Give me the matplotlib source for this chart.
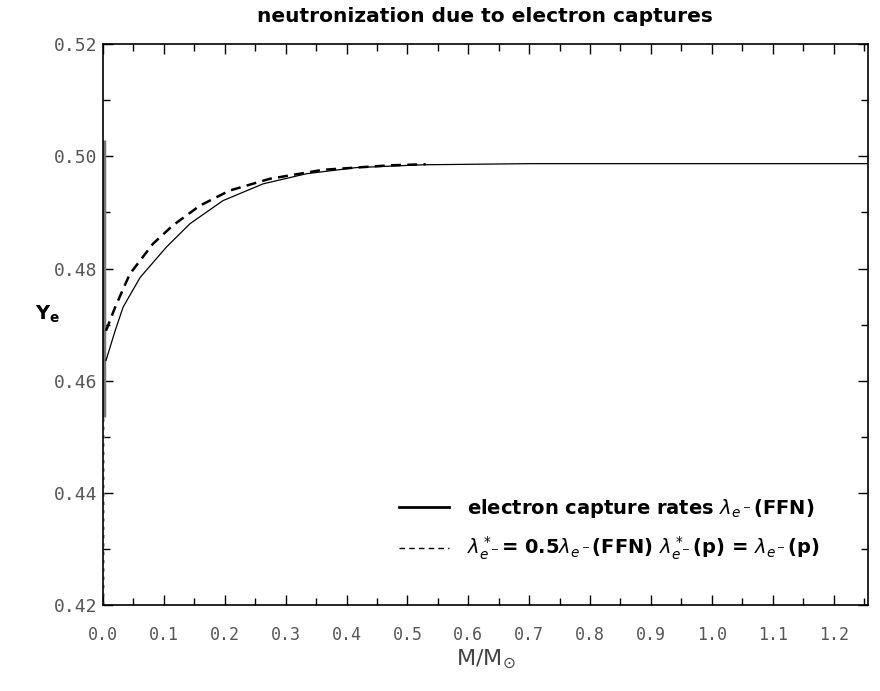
import numpy as np
import matplotlib
matplotlib.use("Agg")
import matplotlib.pyplot as plt
from matplotlib.ticker import MultipleLocator, FormatStrFormatter

# Y_e vs enclosed mass
mass_ffn = [0.005, 0.020, 0.033, 0.061, 0.104, 0.143, 0.197, 0.263, 0.334, 0.416, 0.525, 0.70, 0.90, 1.10, 1.256]
ye_ffn = [0.4636, 0.4689, 0.4731, 0.4784, 0.4838, 0.4880, 0.4921, 0.4951, 0.4969, 0.4980, 0.4985, 0.4987, 0.4987, 0.4987, 0.4987]

mass_half = [0.005, 0.020, 0.044, 0.082, 0.115, 0.159, 0.208, 0.274, 0.361, 0.470, 0.53]
ye_half = [0.4689, 0.4731, 0.4790, 0.4844, 0.4877, 0.4912, 0.4939, 0.4960, 0.4976, 0.4984, 0.4986]

# steep rise right at the centre (drawn along the left edge)
core_mass = [0.001, 0.001]
core_ye = [0.4535, 0.503]
core_low_mass = [0.001, 0.001]
core_low_ye = [0.420, 0.4535]

label_ffn = r"electron capture rates $\lambda_{e^-}$(FFN)"
label_half = r"$\lambda^*_{e^-}$= 0.5$\lambda_{e^-}$(FFN) $\lambda^*_{e^-}$(p) = $\lambda_{e^-}$(p)"

fig = plt.figure(figsize=(8.8, 6.91), dpi=100)
ax = fig.add_axes([0.117, 0.1245, 0.869, 0.8115])

ax.plot(core_mass, core_ye, color="#777777", lw=2.5, solid_capstyle="butt")
ax.plot(core_low_mass, core_low_ye, color="#999999", lw=1.2, ls=(0, (2, 3)))
ax.plot(mass_ffn, ye_ffn, color="black", lw=0.9)
ax.plot(mass_half, ye_half, color="black", lw=1.8, ls=(0, (4, 2.5)))

ax.set_xlim(0, 1.256)
ax.set_ylim(0.42, 0.52)
ax.xaxis.set_major_locator(MultipleLocator(0.1))
ax.xaxis.set_minor_locator(MultipleLocator(0.05))
ax.yaxis.set_major_locator(MultipleLocator(0.02))
ax.yaxis.set_minor_locator(MultipleLocator(0.01))
ax.xaxis.set_major_formatter(FormatStrFormatter("%.1f"))
ax.yaxis.set_major_formatter(FormatStrFormatter("%.2f"))
ax.tick_params(which="both", direction="in", top=True, right=True, width=1.0, color="black")
ax.tick_params(which="major", length=7)
ax.tick_params(which="minor", length=5)
ax.tick_params(axis="x", labelsize=12, labelcolor="#555555", pad=15)
ax.tick_params(axis="y", labelsize=13, labelcolor="#555555", pad=4)
for lab in ax.get_xticklabels() + ax.get_yticklabels():
    lab.set_family("DejaVu Sans Mono")

ax.set_xlabel(r"M/M$_{\odot}$", fontsize=16, color="#444444", labelpad=3)
ax.set_ylabel(r"Y$_{\mathbf{e}}$", fontsize=14, fontweight="bold", rotation=0)
ax.yaxis.set_label_coords(-0.072, 0.50)
ax.set_title("neutronization due to electron captures", fontsize=14.5, fontweight="bold", pad=16)

for s in ax.spines.values():
    s.set_linewidth(1.2)

# legend drawn as keys + text, like the original
h1, = ax.plot([], [], color="black", lw=2.0)
h2, = ax.plot([], [], color="black", lw=1.0, ls=(0, (4, 3)))
leg = ax.legend([h1, h2], [label_ffn, label_half], loc="lower right", frameon=False,
                fontsize=14, handlelength=2.6, handletextpad=0.9, labelspacing=0.75,
                bbox_to_anchor=(0.96, 0.045))
for t in leg.get_texts():
    t.set_fontweight("bold")

fig.savefig("out.png", dpi=100)
